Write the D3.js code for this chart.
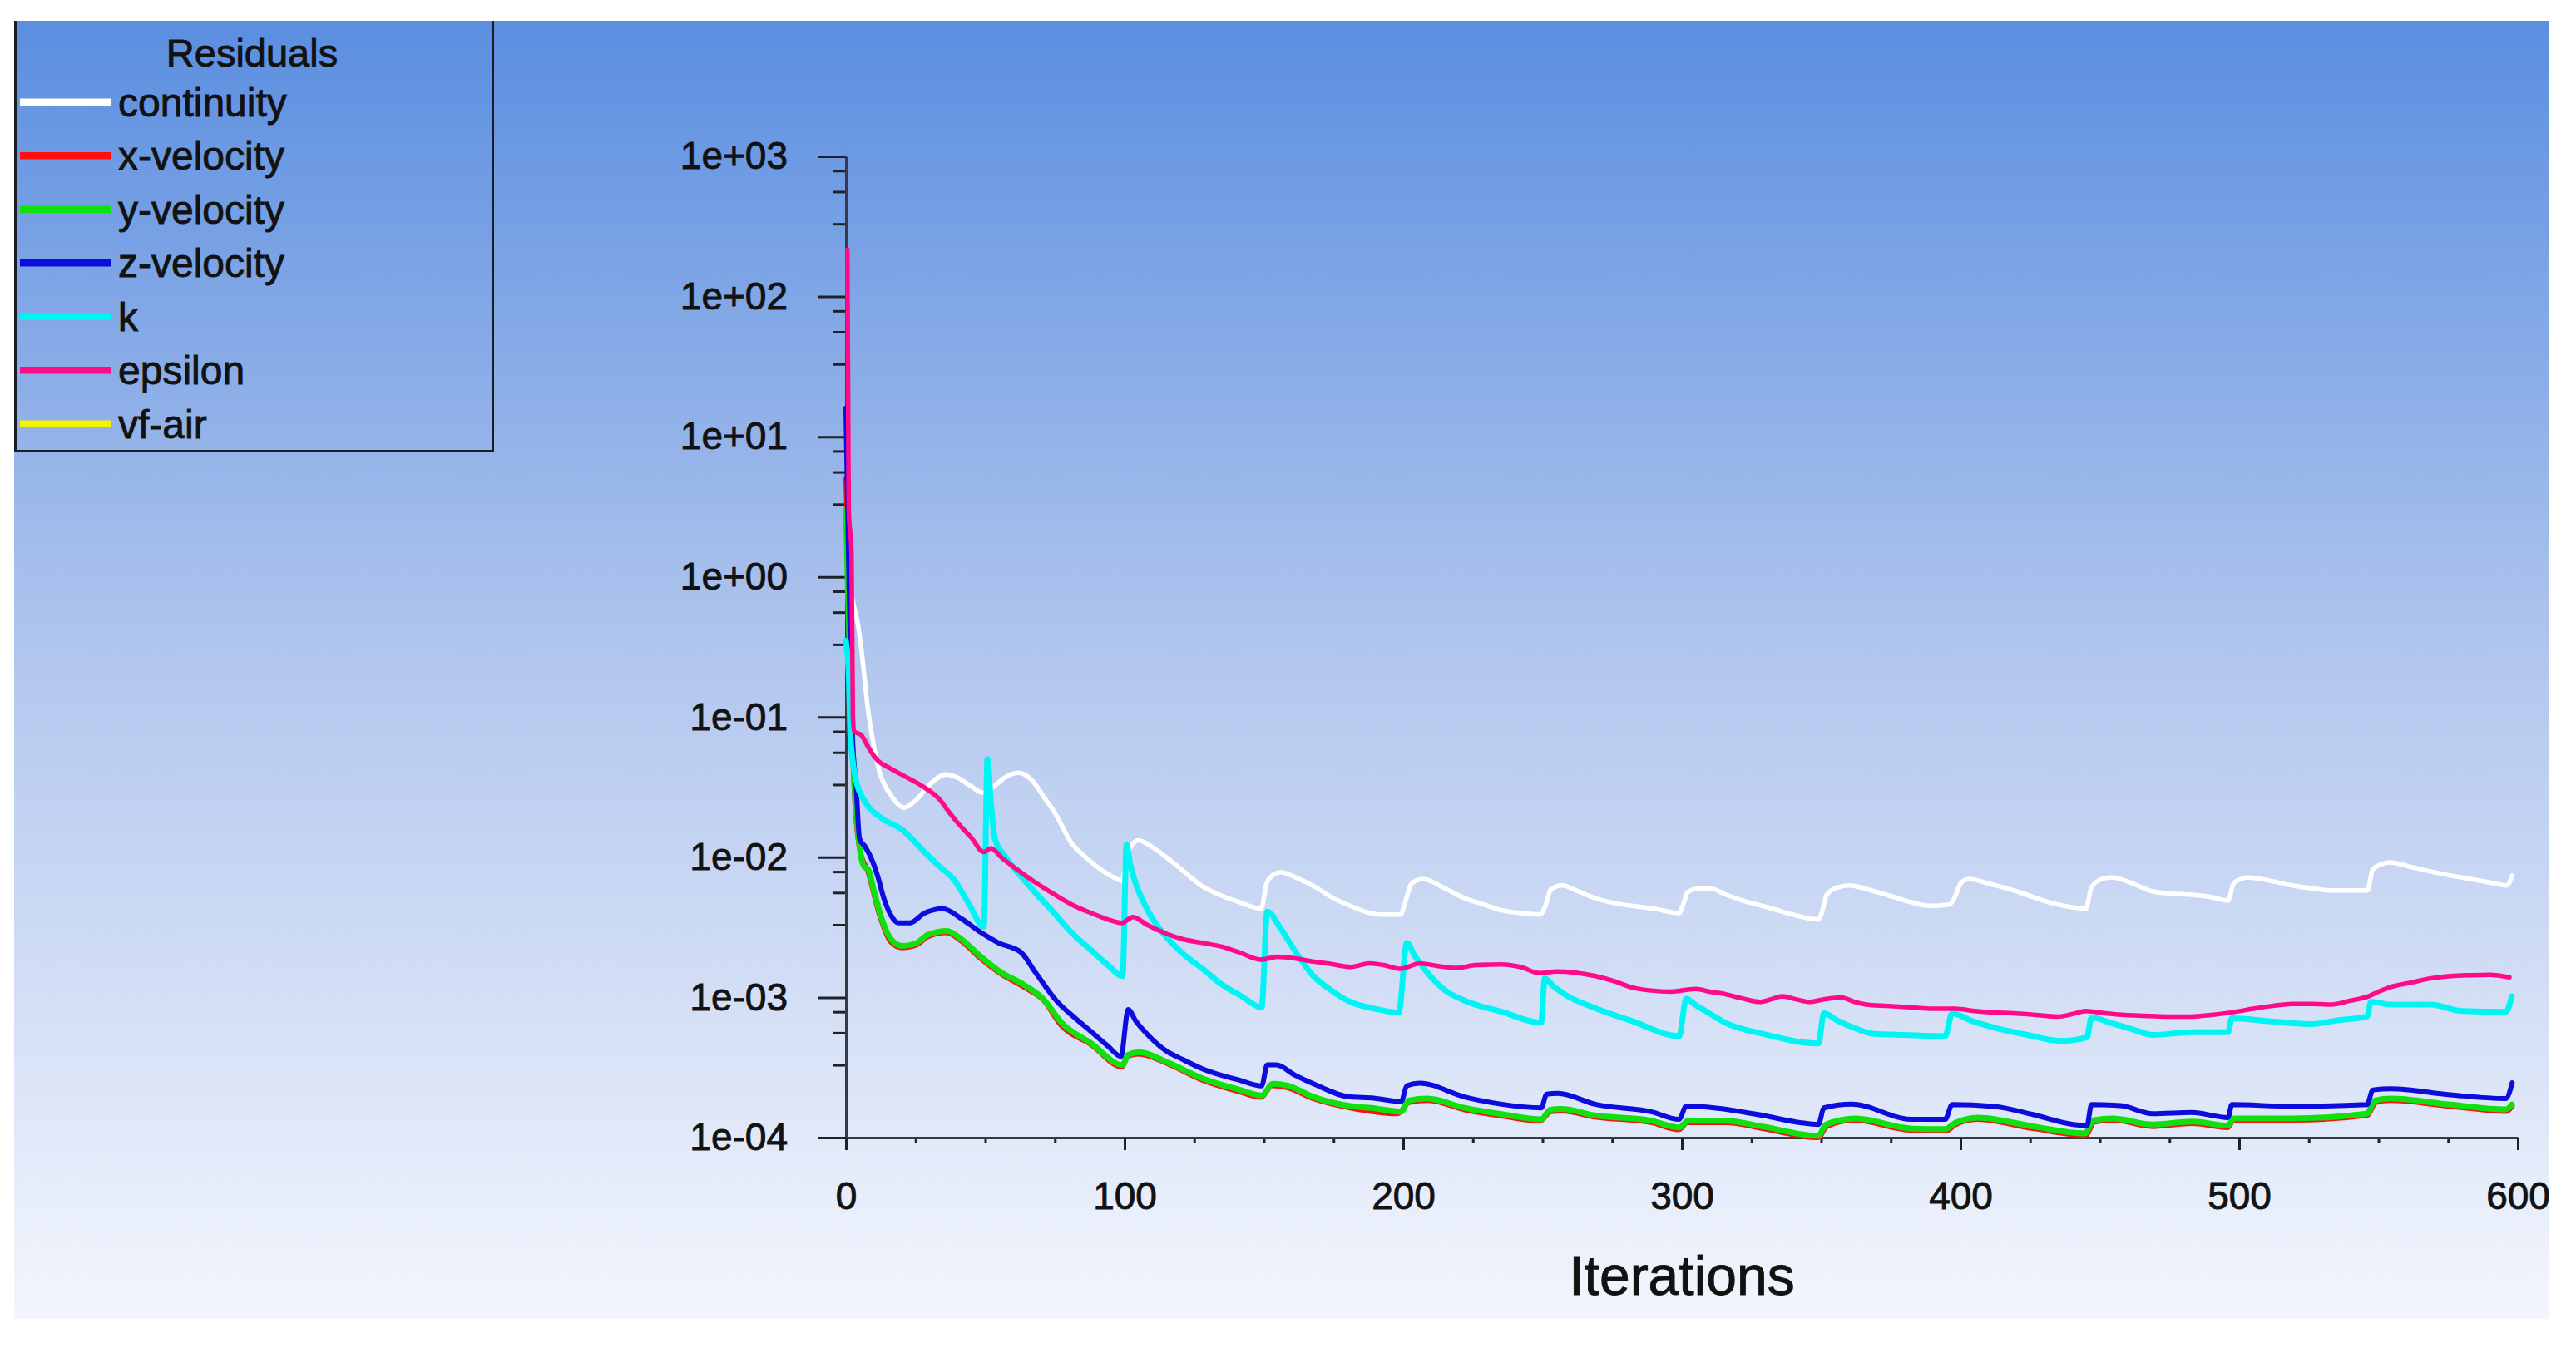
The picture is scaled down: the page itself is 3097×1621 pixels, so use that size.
<!DOCTYPE html>
<html>
<head>
<meta charset="utf-8">
<script src="https://cdn.jsdelivr.net/npm/d3@7"></script>
<style>
html, body { margin: 0; padding: 0; background: #fff; overflow: hidden; }
svg { display: block; }
svg text { font-family: "Liberation Sans", Arial, sans-serif; fill: #121212; stroke: #121212; stroke-width: 0.9px; }
</style>
</head>
<body>
<script>
'use strict';

// residual history, [iteration, residual]
var continuity = [
  [0.5,1.0],[2,0.75],[3,0.6],[4.3,0.46],[5.4,0.32],[8,0.11],[10,0.062],[12,0.041],[16,0.028],[21,0.0226],
  [25.5,0.026],[30,0.033],[36,0.039],[40,0.037],[45,0.032],[49,0.029],[53,0.032],[57,0.037],[62,0.040],[67,0.035],
  [71,0.027],[75,0.0207],[81,0.0126],[86,0.0100],[91,0.0083],[96,0.0072],[99,0.0068],[101,0.0105],[103,0.0125],[105,0.0132],
  [110,0.0118],[115,0.0100],[121,0.0080],[128,0.0062],[135,0.0053],[141,0.0048],[149,0.0043],[151,0.0065],[153,0.0074],[156,0.0078],
  [162,0.0071],[168,0.0062],[175,0.0051],[181,0.0045],[188,0.0040],[192,0.0039],[199,0.0039],[201,0.0050],[203,0.0065],[207,0.0070],
  [215,0.0060],[222,0.0051],[229,0.0046],[235,0.0042],[242,0.0040],[249,0.0039],[251,0.0045],[253,0.0059],[257,0.0063],[263,0.0057],
  [269,0.0051],[276,0.0047],[282,0.0045],[290,0.0043],[299,0.0040],[300.5,0.0046],[302,0.0056],[306,0.0060],[310,0.0060],[316,0.0054],
  [322,0.0049],[329,0.0045],[336,0.0041],[342,0.0038],[349,0.0036],[350.5,0.0042],[352,0.0054],[356,0.0061],[360,0.0063],[368,0.0058],
  [376,0.0052],[382,0.0048],[389,0.0045],[396,0.0046],[398,0.0052],[400,0.0065],[403,0.0070],[410,0.0065],[419,0.0058],[426,0.0052],
  [433,0.0047],[440,0.0044],[445,0.0043],[447,0.0061],[450,0.0069],[454,0.0072],[461,0.0066],[469,0.0057],[476,0.0055],[483,0.0054],
  [490,0.0052],[496,0.0049],[498,0.0065],[500,0.0069],[503,0.0072],[511,0.0068],[519,0.0063],[526,0.0060],[533,0.0058],[540,0.0058],
  [546,0.0058],[548,0.0082],[551,0.0089],[554,0.0092],[562,0.0085],[569,0.0079],[576,0.0074],[583,0.0070],[590,0.0066],[596,0.0063],
  [598,0.0074]
];

var xVelocity = [
  [0,5],[1,0.8],[2,0.1],[3,0.03],[4.9,0.0115],[8,0.0078],[12,0.0039],[16,0.0025],[20,0.00226],[25,0.00235],
  [29.5,0.00272],[36,0.0029],[41.5,0.00252],[48,0.00192],[55,0.0015],[64,0.00118],[71,0.00095],[77,0.00064],[88,0.00046],[99,0.00032],
  [101,0.00038],[105,0.000395],[115,0.00034],[128,0.000257],[141,0.000213],[149,0.000194],[153,0.000235],[158,0.000228],[168,0.000189],[181,0.000163],
  [198,0.000148],[202,0.000178],[209,0.000184],[222,0.000158],[235,0.000143],[249,0.000131],[253,0.000153],[257,0.000155],[269,0.00014],[289,0.000128],
  [299,0.000114],[302,0.000128],[316,0.000128],[329,0.000116],[349,0.0001],[352,0.00012],[362,0.000133],[382,0.000113],[395,0.000112],[398,0.000123],
  [406,0.000135],[426,0.000116],[445,0.000104],[448,0.000129],[455,0.000133],[469,0.00012],[483,0.000126],[496,0.000118],[498,0.000133],[519,0.000133],
  [546,0.000144],[549,0.000178],[554,0.000184],[576,0.000167],[596,0.000154],[598,0.000167]
];

var yVelocity = [
  [0,3],[1,0.5],[2,0.1],[3,0.035],[4.9,0.0119],[6.25,0.0088],[8.2,0.0080],[10,0.0058],[12.2,0.0040],[16.2,0.0026],
  [20.2,0.00233],[24.9,0.00242],[29.5,0.0028],[36.2,0.00298],[41.5,0.0026],[48.1,0.00198],[54.8,0.00155],[64.1,0.00122],[70.7,0.00098],[77.4,0.00066],
  [88,0.00047],[99.3,0.00033],[101.3,0.00039],[105.3,0.000407],[114.6,0.00035],[127.9,0.000265],[141.2,0.00022],[149.2,0.0002],[153.2,0.000242],[158.5,0.000235],
  [167.8,0.000195],[181.1,0.000168],[188.6,0.000163],[199.3,0.000153],[202,0.000184],[208.7,0.00019],[222,0.000163],[235.4,0.000147],[249.5,0.000135],[252.8,0.000158],
  [256.8,0.00016],[268.9,0.000144],[289,0.000132],[299,0.000118],[302.3,0.000132],[315.6,0.000132],[329,0.00012],[349,0.000103],[351.7,0.000124],[362.4,0.000137],
  [382.5,0.000116],[394.5,0.000115],[398,0.000127],[406.3,0.000139],[426.2,0.00012],[444.7,0.000107],[447.6,0.000133],[454.7,0.000137],[468.9,0.000124],[483.2,0.00013],
  [496,0.000122],[498.1,0.000137],[518.8,0.000137],[545.9,0.000148],[548.7,0.000184],[554.4,0.00019],[575.8,0.000172],[595.7,0.000159],[597.9,0.000172]
];

var zVelocity = [
  [0,16],[1,1.2],[2.3,0.074],[3.6,0.0336],[4.9,0.0135],[6.9,0.0119],[9.6,0.0093],[11.5,0.0072],[13.6,0.0051],[16,0.0039],
  [18.9,0.0034],[22.9,0.0034],[28.2,0.0040],[34.8,0.0043],[41.5,0.00364],[48.1,0.00294],[54.8,0.00245],[62.8,0.0021],[68.1,0.0015],[76.1,0.00092],
  [82,0.00072],[88,0.00057],[94,0.00045],[98.7,0.00038],[101.3,0.00082],[104,0.00068],[108,0.00055],[114.6,0.00042],[121,0.00036],[127.9,0.00031],
  [141.2,0.000257],[149.2,0.000234],[151.2,0.00033],[154.5,0.00033],[161,0.00028],[167.8,0.000242],[181.1,0.000195],[188.6,0.000192],[199.3,0.000181],[201.3,0.000235],
  [206,0.000245],[222,0.000195],[235.4,0.000173],[249.5,0.000163],[251.5,0.000204],[255.5,0.000207],[268.9,0.000173],[289,0.000153],[299,0.000135],[301.6,0.000168],
  [311.6,0.000163],[329,0.000144],[342.4,0.000128],[349,0.000124],[351,0.000163],[361,0.000173],[382.5,0.000135],[394.5,0.000135],[397,0.000172],[412,0.000167],
  [426,0.000146],[440.5,0.000124],[445.4,0.000122],[447,0.000172],[457.5,0.000169],[469,0.000148],[483,0.000151],[496,0.000139],[497.4,0.000172],[519,0.000167],
  [545.9,0.000172],[548,0.000219],[554.4,0.000223],[575.8,0.000202],[595.7,0.00019],[598,0.000246]
];

var kResidual = [
  [0,0.35],[1,0.2],[1.6,0.074],[3.6,0.0357],[6.9,0.0248],[12.2,0.0194],[20.2,0.0157],[28.2,0.0109],[33,0.0088],[38.8,0.0069],
  [44,0.0047],[49.5,0.0032],[50.8,0.050],[52,0.025],[53.5,0.0135],[57.4,0.0100],[66,0.0062],[74.7,0.0040],[81,0.0029],[88,0.00217],
  [94,0.0017],[99.3,0.00142],[100.7,0.0123],[102,0.0090],[104,0.0065],[107,0.0047],[110.6,0.0035],[115,0.0027],[121,0.00205],[128,0.0016],
  [134.6,0.00125],[142,0.00102],[149.2,0.00085],[151.2,0.0041],[156,0.0031],[161,0.00217],[167.8,0.00142],[174,0.00113],[181,0.00093],[190,0.00083],
  [198.4,0.00078],[201.3,0.00245],[204,0.0020],[208.7,0.0015],[215.4,0.00111],[222,0.00095],[235.4,0.00079],[249.5,0.00066],[250.8,0.00137],[254,0.0012],
  [258,0.00105],[268.9,0.00084],[282,0.00068],[299,0.00053],[301.6,0.00098],[305,0.00088],[309,0.00079],[315.6,0.00066],[329,0.00055],[349,0.00047],
  [351,0.00077],[356,0.00068],[362.4,0.0006],[369,0.00055],[380,0.00054],[394.5,0.00053],[397,0.00077],[404,0.00068],[412,0.00061],[424,0.00054],
  [436,0.00049],[445.4,0.00052],[447,0.00072],[454.7,0.00065],[462,0.00059],[469,0.00054],[483,0.000565],[496,0.000565],[497.4,0.00071],[511.7,0.000675],
  [525.9,0.000645],[536,0.00069],[545.9,0.00073],[547.3,0.00093],[554.4,0.00089],[568.7,0.00089],[580,0.0008],[595.7,0.00079],[597.9,0.00102]
];

var epsilon = [
  [0.5,216],[1,3],[2,1.5],[2.5,0.1],[3,0.079],[5.6,0.074],[8,0.061],[11,0.050],[16,0.043],[22,0.037],
  [28,0.0316],[33.5,0.026],[37,0.021],[40,0.0177],[45,0.0138],[49.5,0.0109],[52,0.0116],[56,0.0099],[61,0.0083],[68,0.0066],
  [75,0.0054],[81,0.0046],[88,0.0040],[94,0.0036],[99,0.0034],[103,0.00375],[108,0.0033],[115,0.00285],[121,0.0026],[128,0.00245],
  [135,0.0023],[141,0.0021],[149,0.00186],[155,0.00195],[161,0.0019],[168,0.0018],[175,0.00172],[181,0.00165],[188,0.00175],[193,0.0017],
  [199,0.0016],[206,0.00175],[212,0.00168],[219,0.00162],[226,0.0017],[235,0.00172],[242,0.00165],[249,0.00149],[255,0.00153],[262,0.0015],
  [269,0.00142],[276,0.0013],[282,0.00118],[289,0.00112],[296,0.0011],[305,0.00115],[310,0.0011],[316,0.00105],[322,0.00098],[328,0.00093],
  [332,0.00097],[336,0.00102],[341,0.00097],[346,0.00093],[351,0.00097],[357,0.0010],[362,0.00093],[366,0.00089],[374,0.00087],[382,0.00085],
  [390,0.00083],[398,0.00083],[405,0.0008],[412,0.00078],[419,0.00077],[427,0.00075],[435,0.00073],[440,0.00076],[445,0.0008],[452,0.00077],
  [459,0.00075],[466,0.00074],[474,0.00073],[483,0.00073],[490,0.00075],[497,0.00078],[505,0.00083],[512,0.00087],[519,0.0009],[526,0.0009],
  [533,0.00089],[540,0.00095],[546,0.00101],[550,0.0011],[554,0.00118],[562,0.00128],[569,0.00137],[576,0.00142],[583,0.00144],[590,0.00145],
  [597,0.00139]
];

// vf-air never shows above the other curves in the picture
var vfAir = [];

var seriesNames = ["continuity", "x-velocity", "y-velocity", "z-velocity", "k", "epsilon", "vf-air"];
var seriesColors = ["#ffffff", "#ff1010", "#10e010", "#0c0cdc", "#00f4f4", "#ff0a88", "#f4f400"];
var seriesWidths = [5.5, 6, 7, 6, 7, 5.5, 5];
var seriesData = [continuity, xVelocity, yVelocity, zVelocity, kResidual, epsilon, vfAir];

var xTicks = [0, 100, 200, 300, 400, 500, 600];
var xMinorTicks = [25, 50, 75, 125, 150, 175, 225, 250, 275, 325, 350, 375, 425, 450, 475, 525, 550, 575];
var yTicks = [1e-4, 1e-3, 1e-2, 1e-1, 1e0, 1e1, 1e2, 1e3];
var yMinorSteps = [0.79, 0.56, 0.33];

var width = 3097,
    height = 1621;

var svg = d3.select("body").append("svg")
    .attr("width", width)
    .attr("height", height);

var grad = svg.append("defs").append("linearGradient")
    .attr("id", "bg")
    .attr("x1", 0).attr("y1", 0).attr("x2", 0).attr("y2", 1);
grad.append("stop").attr("offset", "0%").attr("stop-color", "#5a8ee0");
grad.append("stop").attr("offset", "50%").attr("stop-color", "#b3c7ee");
grad.append("stop").attr("offset", "100%").attr("stop-color", "#f3f6fd");

svg.append("rect")
    .attr("x", 17).attr("y", 25)
    .attr("width", 3048).attr("height", 1561)
    .attr("fill", "url(#bg)");

var x = d3.scaleLinear().domain([0, 600]).range([1017, 3027]);
var y = d3.scaleLog().domain([1e-4, 1e3]).range([1368, 188]).clamp(true);

var yMinor = [];
yTicks.slice(1).forEach(function(t) {
  yMinorSteps.forEach(function(s) { yMinor.push(t * s); });
});

function expFormat(d) {
  var e = Math.round(Math.log10(d));
  return "1e" + (e < 0 ? "-" : "+") + String(Math.abs(e)).padStart(2, "0");
}

function styleAxis(g) {
  g.select(".domain").attr("stroke", "#353a44").attr("stroke-width", 3);
  g.selectAll(".tick line").attr("stroke", "#1e2228").attr("stroke-width", 3);
}

// minor ticks first, majors over them
svg.append("g")
    .attr("transform", "translate(1017,0)")
    .call(d3.axisLeft(y).tickValues(yMinor).tickSize(16).tickSizeOuter(0).tickFormat(""))
    .call(styleAxis)
    .call(function(g) { g.select(".domain").remove(); });

svg.append("g")
    .attr("transform", "translate(0,1368)")
    .call(d3.axisBottom(x).tickValues(xMinorTicks).tickSize(7).tickSizeOuter(0).tickFormat(""))
    .call(styleAxis)
    .call(function(g) { g.select(".domain").remove(); });

var yAxis = svg.append("g")
    .attr("transform", "translate(1017,0)")
    .call(d3.axisLeft(y).tickValues(yTicks).tickSize(34).tickSizeOuter(0).tickPadding(36).tickFormat(expFormat))
    .call(styleAxis);
yAxis.selectAll(".tick text")
    .attr("font-size", 46)
    .attr("font-family", null)
    .attr("fill", null);

var xAxis = svg.append("g")
    .attr("transform", "translate(0,1368)")
    .call(d3.axisBottom(x).tickValues(xTicks).tickSize(15).tickSizeOuter(0))
    .call(styleAxis);
xAxis.selectAll(".tick text")
    .attr("font-size", 46)
    .attr("font-family", null)
    .attr("fill", null)
    .attr("y", 86)
    .attr("dy", null);

svg.append("text")
    .attr("x", 2022)
    .attr("y", 1557)
    .attr("text-anchor", "middle")
    .attr("font-size", 66)
    .text("Iterations");

var line = d3.line()
    .curve(d3.curveMonotoneX)
    .x(function(d) { return x(d[0]); })
    .y(function(d) { return y(d[1]); });

svg.append("g")
    .attr("class", "lines")
    .selectAll("path")
    .data(seriesData)
    .enter().append("path")
        .attr("d", function(d) { return d.length ? line(d) : null; })
        .attr("fill", "none")
        .attr("stroke", function(d, i) { return seriesColors[i]; })
        .attr("stroke-width", function(d, i) { return seriesWidths[i]; })
        .attr("stroke-linejoin", "round")
        .attr("stroke-linecap", "round");

// legend box, open at the top edge
var legend = svg.append("g").attr("class", "legend");

legend.append("path")
    .attr("d", "M18.5,25V542.5H592.5V25")
    .attr("fill", "none")
    .attr("stroke", "#1a1c26")
    .attr("stroke-width", 3);

legend.append("text")
    .attr("x", 303)
    .attr("y", 80)
    .attr("text-anchor", "middle")
    .attr("font-size", 47)
    .text("Residuals");

var rows = legend.selectAll(".row")
    .data(seriesNames)
    .enter().append("g")
    .attr("class", "row")
    .attr("transform", function(d, i) { return "translate(0," + (122.8 + i * 64.5) + ")"; });

rows.append("line")
    .attr("x1", 24).attr("x2", 133)
    .attr("stroke", function(d, i) { return seriesColors[i]; })
    .attr("stroke-width", 8.5);

rows.append("text")
    .attr("x", 142)
    .attr("y", 17)
    .attr("font-size", 48)
    .text(function(d) { return d; });
</script>
</body>
</html>
